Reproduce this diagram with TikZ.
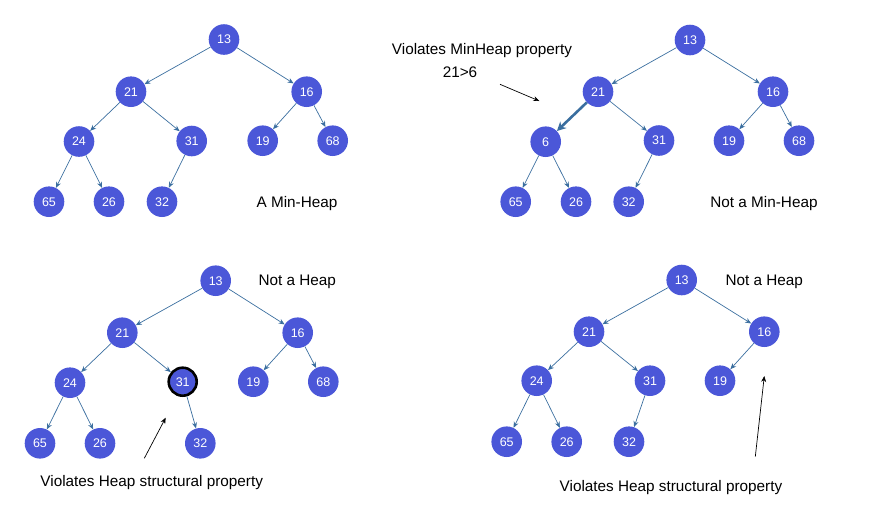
\documentclass[tikz,border=0pt]{standalone}
\usepackage{fontspec}
\setmainfont{Liberation Sans}
\usetikzlibrary{arrows.meta}
\definecolor{nodeblue}{HTML}{4B57D8}
\definecolor{edgeblue}{HTML}{3A6E9F}
\tikzset{
  hn/.style={circle,fill=nodeblue,text=white,minimum size=30.6pt,inner sep=0pt,font=\fontsize{12.5}{12.5}\selectfont},
  hnbold/.style={hn,draw=black,line width=2.6pt,minimum size=28pt},
  ed/.style={draw=edgeblue,line width=0.7pt,-{Stealth[length=6pt,width=5pt]}},
  edthick/.style={draw=edgeblue,line width=2.6pt,-{Stealth[length=9pt,width=9pt]}},
  lbl/.style={font=\fontsize{15.3}{15.3}\selectfont,text=black,inner sep=0pt,text depth=0pt},
  ann/.style={draw=black,line width=0.7pt,-{Stealth[length=6pt,width=5pt]}}
}
\begin{document}
\begin{tikzpicture}[x=1pt,y=-1pt]
\useasboundingbox (0,0) rectangle (875,531);
% Tree 1
\node[hn] (a13) at (224,39.5) {13};
\node[hn] (a21) at (131,91.7) {21};
\node[hn] (a16) at (306.7,91.7) {16};
\node[hn] (a24) at (79,141.5) {24};
\node[hn] (a31) at (191.7,141) {31};
\node[hn] (a19) at (262.7,140.7) {19};
\node[hn] (a68) at (332.7,140.7) {68};
\node[hn] (a65) at (49,201.7) {65};
\node[hn] (a26) at (109,201.7) {26};
\node[hn] (a32) at (162,201.7) {32};
\node[lbl] (t1) at (297,201.7) {A Min-Heap};
\draw[ed] (a13) -- (a21);
\draw[ed] (a13) -- (a16);
\draw[ed] (a21) -- (a24);
\draw[ed] (a21) -- (a31);
\draw[ed] (a16) -- (a19);
\draw[ed] (a16) -- (a68);
\draw[ed] (a24) -- (a65);
\draw[ed] (a24) -- (a26);
\draw[ed] (a31) -- (a32);
% Tree 2
\node[hn] (b13) at (690,40) {13};
\node[hn] (b21) at (598,91.7) {21};
\node[hn] (b16) at (773,91.7) {16};
\node[hn] (b6) at (545.7,141.7) {6};
\node[hn] (b31) at (659,140.5) {31};
\node[hn] (b19) at (729,140.7) {19};
\node[hn] (b68) at (799,140.7) {68};
\node[hn] (b65) at (515.7,201.7) {65};
\node[hn] (b26) at (576,201.7) {26};
\node[hn] (b32) at (628.7,201.7) {32};
\node[lbl] (t2) at (764,201.7) {Not a Min-Heap};
\node[lbl] (v2a) at (482,49.3) {Violates MinHeap property};
\node[lbl] (v2b) at (460,71.7) {21>6};
\coordinate (p2s) at (500,84.3);
\coordinate (p2e) at (539.3,101);
\draw[ann] (p2s) -- (p2e);
\draw[ed] (b13) -- (b21);
\draw[ed] (b13) -- (b16);
\draw[edthick] (b21) -- (b6);
\draw[ed] (b21) -- (b31);
\draw[ed] (b16) -- (b19);
\draw[ed] (b16) -- (b68);
\draw[ed] (b6) -- (b65);
\draw[ed] (b6) -- (b26);
\draw[ed] (b31) -- (b32);
% Tree 3
\node[hn] (c13) at (215.7,280.7) {13};
\node[hn] (c21) at (122.3,332.7) {21};
\node[hn] (c16) at (297.7,332.7) {16};
\node[hn] (c24) at (70,382.7) {24};
\node[hnbold] (c31) at (182.7,381.7) {31};
\node[hn] (c19) at (253.3,381.7) {19};
\node[hn] (c68) at (323.3,381.7) {68};
\node[hn] (c65) at (40,443.3) {65};
\node[hn] (c26) at (100,443.3) {26};
\node[hn] (c32) at (200.3,443.3) {32};
\node[lbl] (t3) at (297.3,280.7) {Not a Heap};
\node[lbl] (v3) at (151.7,480.7) {Violates Heap structural property};
\coordinate (p3s) at (144.3,458.3);
\coordinate (p3e) at (165.7,417.7);
\draw[ann] (p3s) -- (p3e);
\draw[ed] (c13) -- (c21);
\draw[ed] (c13) -- (c16);
\draw[ed] (c21) -- (c24);
\draw[ed] (c21) -- (c31);
\draw[ed] (c16) -- (c19);
\draw[ed] (c16) -- (c68);
\draw[ed] (c24) -- (c65);
\draw[ed] (c24) -- (c26);
\draw[ed] (c31) -- (c32);
% Tree 4
\node[hn] (d13) at (681.7,280) {13};
\node[hn] (d21) at (589,331.7) {21};
\node[hn] (d16) at (764.3,331.7) {16};
\node[hn] (d24) at (536.7,380.7) {24};
\node[hn] (d31) at (650,380.7) {31};
\node[hn] (d19) at (720,380.7) {19};
\node[hn] (d65) at (506.7,441.7) {65};
\node[hn] (d26) at (566.7,441.7) {26};
\node[hn] (d32) at (629,441.7) {32};
\node[lbl] (t4) at (764.3,280) {Not a Heap};
\node[lbl] (v4) at (671,486) {Violates Heap structural property};
\coordinate (p4s) at (755.3,456.7);
\coordinate (p4e) at (764.3,376);
\draw[ann] (p4s) -- (p4e);
\draw[ed] (d13) -- (d21);
\draw[ed] (d13) -- (d16);
\draw[ed] (d21) -- (d24);
\draw[ed] (d21) -- (d31);
\draw[ed] (d16) -- (d19);
\draw[ed] (d24) -- (d65);
\draw[ed] (d24) -- (d26);
\draw[ed] (d31) -- (d32);
\end{tikzpicture}
\end{document}
